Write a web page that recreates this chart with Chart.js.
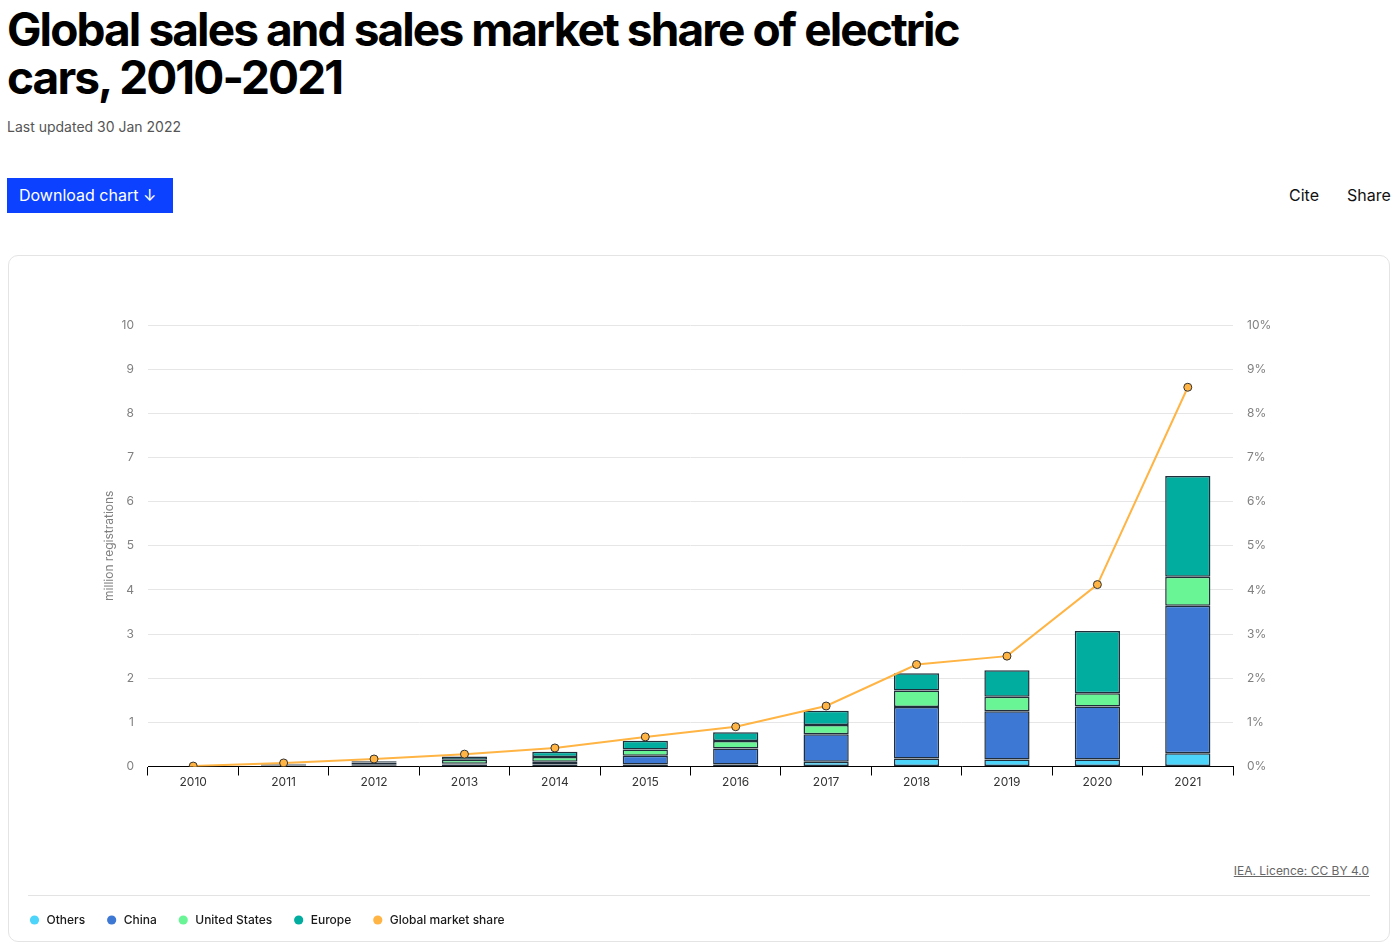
<!DOCTYPE html>
<html><head><meta charset="utf-8">
<script src="https://cdn.jsdelivr.net/npm/chart.js@4"></script>
<style>
html,body{margin:0;padding:0;background:#fff;}
body{width:1394px;height:944px;position:relative;overflow:hidden;font-family:Inter,"Noto Sans",sans-serif;color:#000;}
h1{position:absolute;left:7px;top:5px;margin:0;width:1000px;font-size:46px;line-height:48px;font-weight:700;letter-spacing:-1.9px;}
.updated{position:absolute;left:7px;top:118px;font-size:14px;color:#555;}
.btn{position:absolute;left:7px;top:178px;width:166px;height:35px;background:#0b41ff;color:#fff;font-size:16px;line-height:35px;box-sizing:border-box;padding-left:12px;}
.cite{position:absolute;left:1289px;top:185px;font-size:16px;color:#111;}
.share{position:absolute;left:1347px;top:185px;font-size:16px;color:#111;}
.card{position:absolute;left:8px;top:255px;width:1382px;height:687px;border:1px solid #e4e4e4;border-radius:10px;box-sizing:border-box;}
.chartbox{position:absolute;left:8px;top:255px;width:1382px;height:689px;}
.sep{position:absolute;left:28px;top:895px;width:1342px;height:1px;background:#e3e3e3;}
.attr{position:absolute;right:25px;top:863px;font-size:12px;color:#666;text-decoration:underline;}
</style></head>
<body>
<h1>Global sales and sales market share of electric cars, 2010-2021</h1>
<div class="updated">Last updated 30 Jan 2022</div>
<div class="btn">Download chart &#8595;</div>
<div class="cite">Cite</div>
<div class="share">Share</div>
<div class="card"></div>
<div class="sep"></div>
<div class="attr">IEA. Licence: CC BY 4.0</div>
<div class="chartbox"><canvas id="c"></canvas></div>
<script>
const years = ['2010','2011','2012','2013','2014','2015','2016','2017','2018','2019','2020','2021'];
const others = [0.003, 0.02, 0.03, 0.045, 0.045, 0.045, 0.045, 0.11, 0.18, 0.16, 0.16, 0.30];
const china = [0.001, 0.005, 0.01, 0.02, 0.06, 0.20, 0.36, 0.62, 1.17, 1.09, 1.20, 3.34];
const unitedStates = [0.001, 0.02, 0.05, 0.09, 0.11, 0.14, 0.17, 0.21, 0.37, 0.33, 0.30, 0.66];
const europe = [0.001, 0.015, 0.03, 0.07, 0.12, 0.20, 0.20, 0.32, 0.39, 0.60, 1.41, 2.28];
const marketShare = [0.01, 0.08, 0.17, 0.28, 0.42, 0.67, 0.90, 1.37, 2.31, 2.50, 4.12, 8.59];

const borderDark = '#1f2e3a';
function bar(label, data, color){
  return {type:'bar', label, data, backgroundColor:color, borderColor:borderDark, borderWidth:1.5,
    borderSkipped:false, yAxisID:'y', stack:'s', order:1, categoryPercentage:1, barPercentage:0.5};
}
const tickFont = {family:'Inter, "Noto Sans", sans-serif', size:12};
new Chart(document.getElementById('c'), {
  data:{labels:years, datasets:[
    bar('Others', others, '#4dd4fb'),
    bar('China', china, '#3d78d4'),
    bar('United States', unitedStates, '#69f595'),
    bar('Europe', europe, '#00ad9f'),
    {type:'line', label:'Global market share', data:marketShare, yAxisID:'y2', order:0,
     borderColor:'#ffb444', backgroundColor:'#ffb444', borderWidth:2, tension:0,
     pointRadius:4, pointBackgroundColor:'#ffb444', pointBorderColor:'#333', pointBorderWidth:1}
  ]},
  options:{
    responsive:true, maintainAspectRatio:false, animation:false,
    layout:{padding:{top:70,left:0,right:0,bottom:8}},
    plugins:{
      tooltip:{enabled:false},
      legend:{position:'bottom', align:'start',
        labels:{usePointStyle:true, pointStyle:'circle', boxWidth:12, boxHeight:6.5, padding:20.5,
          color:'#1a1a1a', font:{family:'Inter, "Noto Sans", sans-serif', size:12, weight:'500'},
          sort:(a,b)=>a.datasetIndex-b.datasetIndex,
          generateLabels(chart){
            const items = Chart.defaults.plugins.legend.labels.generateLabels(chart);
            items.forEach(it=>{it.strokeStyle=it.fillStyle; it.lineWidth=0; it.pointStyle='circle';});
            return items;
          }}}
    },
    scales:{
      x:{grid:{offset:true, drawOnChartArea:false, drawTicks:true, tickLength:9, color:'#000'},
         border:{color:'#000', width:1},
         ticks:{color:'#333', font:tickFont, padding:0},
         afterFit(s){ s.height = 127; }},
      y:{position:'left', min:0, max:10, stacked:true,
         ticks:{stepSize:1, color:'#808080', font:tickFont, padding:14},
         grid:{color:'#e6e6e6', drawTicks:false},
         border:{display:false},
         title:{display:true, text:'million registrations', color:'#808080', font:{family:'Inter, "Noto Sans", sans-serif', size:12}, padding:{top:94}},
         afterFit(s){ s.width = 140; }},
      y2:{position:'right', min:0, max:10,
         ticks:{stepSize:1, color:'#808080', font:tickFont, padding:14, callback:v=>v+'%'},
         grid:{display:false, drawTicks:false},
         border:{display:false},
         afterFit(s){ s.width = 157; }}
    }
  }
});
</script>
</body></html>
